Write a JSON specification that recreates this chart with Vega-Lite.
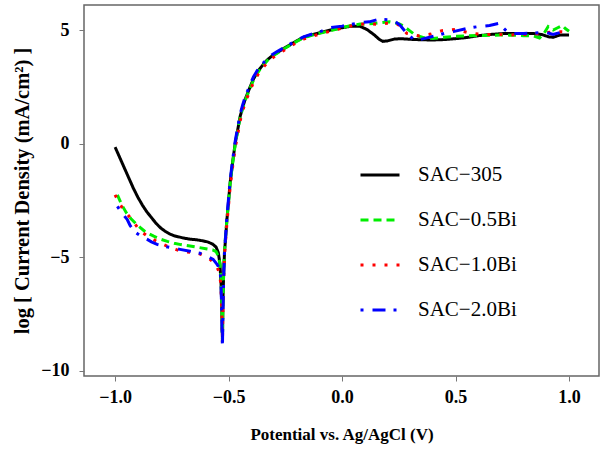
{
  "$schema": "https://vega.github.io/schema/vega-lite/v6.json",
  "autosize": "none",
  "width": 515,
  "height": 371,
  "padding": {"left": 84, "top": 5, "right": 2, "bottom": 74},
  "background": "white",
  "config": {
    "view": {"stroke": "#666666", "strokeWidth": 1.5},
    "font": "Liberation Serif",
    "legend": {"labelFont": "Liberation Serif"},
    "axis": {"labelFont": "Liberation Serif", "titleFont": "Liberation Serif"}
  },
  "datasets": {
    "curves": [
      {"alloy": "SAC−305", "V": -1.0, "J": -0.15},
      {"alloy": "SAC−305", "V": -0.98, "J": -0.6},
      {"alloy": "SAC−305", "V": -0.96, "J": -1.05},
      {"alloy": "SAC−305", "V": -0.94, "J": -1.5},
      {"alloy": "SAC−305", "V": -0.92, "J": -1.95},
      {"alloy": "SAC−305", "V": -0.9, "J": -2.35},
      {"alloy": "SAC−305", "V": -0.88, "J": -2.7},
      {"alloy": "SAC−305", "V": -0.86, "J": -3.0},
      {"alloy": "SAC−305", "V": -0.84, "J": -3.25},
      {"alloy": "SAC−305", "V": -0.82, "J": -3.5},
      {"alloy": "SAC−305", "V": -0.8, "J": -3.7},
      {"alloy": "SAC−305", "V": -0.78, "J": -3.85},
      {"alloy": "SAC−305", "V": -0.76, "J": -3.97},
      {"alloy": "SAC−305", "V": -0.74, "J": -4.05},
      {"alloy": "SAC−305", "V": -0.72, "J": -4.1},
      {"alloy": "SAC−305", "V": -0.7, "J": -4.15},
      {"alloy": "SAC−305", "V": -0.67, "J": -4.2},
      {"alloy": "SAC−305", "V": -0.64, "J": -4.23},
      {"alloy": "SAC−305", "V": -0.61, "J": -4.28},
      {"alloy": "SAC−305", "V": -0.59, "J": -4.33},
      {"alloy": "SAC−305", "V": -0.57, "J": -4.42},
      {"alloy": "SAC−305", "V": -0.555, "J": -4.55},
      {"alloy": "SAC−305", "V": -0.545, "J": -4.8},
      {"alloy": "SAC−305", "V": -0.538, "J": -5.3},
      {"alloy": "SAC−305", "V": -0.533, "J": -6.2},
      {"alloy": "SAC−305", "V": -0.53, "J": -7.2},
      {"alloy": "SAC−305", "V": -0.528, "J": -8.3},
      {"alloy": "SAC−305", "V": -0.527, "J": -8.6},
      {"alloy": "SAC−305", "V": -0.525, "J": -7.0},
      {"alloy": "SAC−305", "V": -0.522, "J": -5.8},
      {"alloy": "SAC−305", "V": -0.518, "J": -4.8},
      {"alloy": "SAC−305", "V": -0.512, "J": -4.0},
      {"alloy": "SAC−305", "V": -0.507, "J": -3.3},
      {"alloy": "SAC−305", "V": -0.5, "J": -2.5},
      {"alloy": "SAC−305", "V": -0.493, "J": -1.7},
      {"alloy": "SAC−305", "V": -0.482, "J": -0.8},
      {"alloy": "SAC−305", "V": -0.471, "J": 0.0},
      {"alloy": "SAC−305", "V": -0.46, "J": 0.6},
      {"alloy": "SAC−305", "V": -0.449, "J": 1.2},
      {"alloy": "SAC−305", "V": -0.438, "J": 1.6},
      {"alloy": "SAC−305", "V": -0.427, "J": 1.95},
      {"alloy": "SAC−305", "V": -0.415, "J": 2.25},
      {"alloy": "SAC−305", "V": -0.405, "J": 2.5},
      {"alloy": "SAC−305", "V": -0.39, "J": 2.85},
      {"alloy": "SAC−305", "V": -0.37, "J": 3.2},
      {"alloy": "SAC−305", "V": -0.35, "J": 3.45},
      {"alloy": "SAC−305", "V": -0.33, "J": 3.68},
      {"alloy": "SAC−305", "V": -0.31, "J": 3.85},
      {"alloy": "SAC−305", "V": -0.286, "J": 4.0},
      {"alloy": "SAC−305", "V": -0.26, "J": 4.17},
      {"alloy": "SAC−305", "V": -0.229, "J": 4.35},
      {"alloy": "SAC−305", "V": -0.2, "J": 4.52},
      {"alloy": "SAC−305", "V": -0.17, "J": 4.68},
      {"alloy": "SAC−305", "V": -0.13, "J": 4.8},
      {"alloy": "SAC−305", "V": -0.09, "J": 4.9},
      {"alloy": "SAC−305", "V": -0.05, "J": 5.0},
      {"alloy": "SAC−305", "V": 0.0, "J": 5.1},
      {"alloy": "SAC−305", "V": 0.04, "J": 5.17},
      {"alloy": "SAC−305", "V": 0.08, "J": 5.16},
      {"alloy": "SAC−305", "V": 0.11, "J": 5.02},
      {"alloy": "SAC−305", "V": 0.14, "J": 4.8},
      {"alloy": "SAC−305", "V": 0.165, "J": 4.58},
      {"alloy": "SAC−305", "V": 0.18, "J": 4.5},
      {"alloy": "SAC−305", "V": 0.2, "J": 4.52},
      {"alloy": "SAC−305", "V": 0.23, "J": 4.6},
      {"alloy": "SAC−305", "V": 0.26, "J": 4.62},
      {"alloy": "SAC−305", "V": 0.3, "J": 4.59},
      {"alloy": "SAC−305", "V": 0.35, "J": 4.57},
      {"alloy": "SAC−305", "V": 0.4, "J": 4.56},
      {"alloy": "SAC−305", "V": 0.45, "J": 4.58},
      {"alloy": "SAC−305", "V": 0.5, "J": 4.62},
      {"alloy": "SAC−305", "V": 0.55, "J": 4.67},
      {"alloy": "SAC−305", "V": 0.6, "J": 4.75},
      {"alloy": "SAC−305", "V": 0.65, "J": 4.8},
      {"alloy": "SAC−305", "V": 0.7, "J": 4.84},
      {"alloy": "SAC−305", "V": 0.76, "J": 4.85},
      {"alloy": "SAC−305", "V": 0.84, "J": 4.85},
      {"alloy": "SAC−305", "V": 0.88, "J": 4.8},
      {"alloy": "SAC−305", "V": 0.91, "J": 4.7},
      {"alloy": "SAC−305", "V": 0.93, "J": 4.68},
      {"alloy": "SAC−305", "V": 0.96, "J": 4.78},
      {"alloy": "SAC−305", "V": 1.0, "J": 4.78},

      {"alloy": "SAC−0.5Bi", "V": -0.99, "J": -2.25},
      {"alloy": "SAC−0.5Bi", "V": -0.97, "J": -2.7},
      {"alloy": "SAC−0.5Bi", "V": -0.95, "J": -3.05},
      {"alloy": "SAC−0.5Bi", "V": -0.93, "J": -3.3},
      {"alloy": "SAC−0.5Bi", "V": -0.91, "J": -3.5},
      {"alloy": "SAC−0.5Bi", "V": -0.89, "J": -3.68},
      {"alloy": "SAC−0.5Bi", "V": -0.87, "J": -3.85},
      {"alloy": "SAC−0.5Bi", "V": -0.85, "J": -3.97},
      {"alloy": "SAC−0.5Bi", "V": -0.83, "J": -4.07},
      {"alloy": "SAC−0.5Bi", "V": -0.8, "J": -4.2},
      {"alloy": "SAC−0.5Bi", "V": -0.77, "J": -4.3},
      {"alloy": "SAC−0.5Bi", "V": -0.74, "J": -4.38},
      {"alloy": "SAC−0.5Bi", "V": -0.71, "J": -4.44},
      {"alloy": "SAC−0.5Bi", "V": -0.67, "J": -4.5},
      {"alloy": "SAC−0.5Bi", "V": -0.63, "J": -4.57},
      {"alloy": "SAC−0.5Bi", "V": -0.6, "J": -4.62},
      {"alloy": "SAC−0.5Bi", "V": -0.57, "J": -4.67},
      {"alloy": "SAC−0.5Bi", "V": -0.555, "J": -4.75},
      {"alloy": "SAC−0.5Bi", "V": -0.545, "J": -4.95},
      {"alloy": "SAC−0.5Bi", "V": -0.538, "J": -5.3},
      {"alloy": "SAC−0.5Bi", "V": -0.533, "J": -5.9},
      {"alloy": "SAC−0.5Bi", "V": -0.53, "J": -7.0},
      {"alloy": "SAC−0.5Bi", "V": -0.528, "J": -8.2},
      {"alloy": "SAC−0.5Bi", "V": -0.527, "J": -8.7},
      {"alloy": "SAC−0.5Bi", "V": -0.525, "J": -7.2},
      {"alloy": "SAC−0.5Bi", "V": -0.522, "J": -5.8},
      {"alloy": "SAC−0.5Bi", "V": -0.518, "J": -4.7},
      {"alloy": "SAC−0.5Bi", "V": -0.512, "J": -3.9},
      {"alloy": "SAC−0.5Bi", "V": -0.507, "J": -3.3},
      {"alloy": "SAC−0.5Bi", "V": -0.5, "J": -2.55},
      {"alloy": "SAC−0.5Bi", "V": -0.493, "J": -1.75},
      {"alloy": "SAC−0.5Bi", "V": -0.482, "J": -0.85},
      {"alloy": "SAC−0.5Bi", "V": -0.471, "J": -0.05},
      {"alloy": "SAC−0.5Bi", "V": -0.46, "J": 0.55},
      {"alloy": "SAC−0.5Bi", "V": -0.449, "J": 1.15},
      {"alloy": "SAC−0.5Bi", "V": -0.438, "J": 1.55},
      {"alloy": "SAC−0.5Bi", "V": -0.427, "J": 1.9},
      {"alloy": "SAC−0.5Bi", "V": -0.415, "J": 2.2},
      {"alloy": "SAC−0.5Bi", "V": -0.405, "J": 2.45},
      {"alloy": "SAC−0.5Bi", "V": -0.39, "J": 2.8},
      {"alloy": "SAC−0.5Bi", "V": -0.37, "J": 3.15},
      {"alloy": "SAC−0.5Bi", "V": -0.35, "J": 3.42},
      {"alloy": "SAC−0.5Bi", "V": -0.33, "J": 3.65},
      {"alloy": "SAC−0.5Bi", "V": -0.31, "J": 3.83},
      {"alloy": "SAC−0.5Bi", "V": -0.286, "J": 3.98},
      {"alloy": "SAC−0.5Bi", "V": -0.26, "J": 4.15},
      {"alloy": "SAC−0.5Bi", "V": -0.229, "J": 4.33},
      {"alloy": "SAC−0.5Bi", "V": -0.2, "J": 4.5},
      {"alloy": "SAC−0.5Bi", "V": -0.17, "J": 4.66},
      {"alloy": "SAC−0.5Bi", "V": -0.13, "J": 4.78},
      {"alloy": "SAC−0.5Bi", "V": -0.09, "J": 4.88},
      {"alloy": "SAC−0.5Bi", "V": -0.04, "J": 5.0},
      {"alloy": "SAC−0.5Bi", "V": 0.0, "J": 5.1},
      {"alloy": "SAC−0.5Bi", "V": 0.04, "J": 5.2},
      {"alloy": "SAC−0.5Bi", "V": 0.08, "J": 5.26},
      {"alloy": "SAC−0.5Bi", "V": 0.14, "J": 5.29},
      {"alloy": "SAC−0.5Bi", "V": 0.21, "J": 5.36},
      {"alloy": "SAC−0.5Bi", "V": 0.25, "J": 5.28},
      {"alloy": "SAC−0.5Bi", "V": 0.27, "J": 5.18},
      {"alloy": "SAC−0.5Bi", "V": 0.3, "J": 4.95},
      {"alloy": "SAC−0.5Bi", "V": 0.322, "J": 4.78},
      {"alloy": "SAC−0.5Bi", "V": 0.36, "J": 4.66},
      {"alloy": "SAC−0.5Bi", "V": 0.4, "J": 4.63},
      {"alloy": "SAC−0.5Bi", "V": 0.45, "J": 4.68},
      {"alloy": "SAC−0.5Bi", "V": 0.5, "J": 4.72},
      {"alloy": "SAC−0.5Bi", "V": 0.55, "J": 4.74},
      {"alloy": "SAC−0.5Bi", "V": 0.6, "J": 4.76},
      {"alloy": "SAC−0.5Bi", "V": 0.65, "J": 4.77},
      {"alloy": "SAC−0.5Bi", "V": 0.7, "J": 4.78},
      {"alloy": "SAC−0.5Bi", "V": 0.76, "J": 4.77},
      {"alloy": "SAC−0.5Bi", "V": 0.8, "J": 4.75},
      {"alloy": "SAC−0.5Bi", "V": 0.843, "J": 4.74},
      {"alloy": "SAC−0.5Bi", "V": 0.87, "J": 4.65},
      {"alloy": "SAC−0.5Bi", "V": 0.89, "J": 4.85},
      {"alloy": "SAC−0.5Bi", "V": 0.908, "J": 5.15},
      {"alloy": "SAC−0.5Bi", "V": 0.93, "J": 5.0},
      {"alloy": "SAC−0.5Bi", "V": 0.95, "J": 5.1},
      {"alloy": "SAC−0.5Bi", "V": 0.97, "J": 5.2},
      {"alloy": "SAC−0.5Bi", "V": 0.985, "J": 5.05},
      {"alloy": "SAC−0.5Bi", "V": 1.0, "J": 4.95},

      {"alloy": "SAC−1.0Bi", "V": -1.0, "J": -2.25},
      {"alloy": "SAC−1.0Bi", "V": -0.985, "J": -2.55},
      {"alloy": "SAC−1.0Bi", "V": -0.97, "J": -2.8},
      {"alloy": "SAC−1.0Bi", "V": -0.95, "J": -3.05},
      {"alloy": "SAC−1.0Bi", "V": -0.934, "J": -3.25},
      {"alloy": "SAC−1.0Bi", "V": -0.915, "J": -3.5},
      {"alloy": "SAC−1.0Bi", "V": -0.9, "J": -3.7},
      {"alloy": "SAC−1.0Bi", "V": -0.88, "J": -3.9},
      {"alloy": "SAC−1.0Bi", "V": -0.86, "J": -4.05},
      {"alloy": "SAC−1.0Bi", "V": -0.84, "J": -4.18},
      {"alloy": "SAC−1.0Bi", "V": -0.815, "J": -4.3},
      {"alloy": "SAC−1.0Bi", "V": -0.79, "J": -4.42},
      {"alloy": "SAC−1.0Bi", "V": -0.758, "J": -4.56},
      {"alloy": "SAC−1.0Bi", "V": -0.73, "J": -4.66},
      {"alloy": "SAC−1.0Bi", "V": -0.705, "J": -4.74},
      {"alloy": "SAC−1.0Bi", "V": -0.67, "J": -4.78},
      {"alloy": "SAC−1.0Bi", "V": -0.64, "J": -4.8},
      {"alloy": "SAC−1.0Bi", "V": -0.62, "J": -4.88},
      {"alloy": "SAC−1.0Bi", "V": -0.603, "J": -4.96},
      {"alloy": "SAC−1.0Bi", "V": -0.58, "J": -5.1},
      {"alloy": "SAC−1.0Bi", "V": -0.56, "J": -5.3},
      {"alloy": "SAC−1.0Bi", "V": -0.55, "J": -5.45},
      {"alloy": "SAC−1.0Bi", "V": -0.54, "J": -5.7},
      {"alloy": "SAC−1.0Bi", "V": -0.534, "J": -6.2},
      {"alloy": "SAC−1.0Bi", "V": -0.53, "J": -7.3},
      {"alloy": "SAC−1.0Bi", "V": -0.528, "J": -8.3},
      {"alloy": "SAC−1.0Bi", "V": -0.527, "J": -8.8},
      {"alloy": "SAC−1.0Bi", "V": -0.525, "J": -7.3},
      {"alloy": "SAC−1.0Bi", "V": -0.522, "J": -6.0},
      {"alloy": "SAC−1.0Bi", "V": -0.518, "J": -4.9},
      {"alloy": "SAC−1.0Bi", "V": -0.512, "J": -4.1},
      {"alloy": "SAC−1.0Bi", "V": -0.507, "J": -3.45},
      {"alloy": "SAC−1.0Bi", "V": -0.5, "J": -2.7},
      {"alloy": "SAC−1.0Bi", "V": -0.493, "J": -1.9},
      {"alloy": "SAC−1.0Bi", "V": -0.482, "J": -1.0},
      {"alloy": "SAC−1.0Bi", "V": -0.471, "J": -0.2},
      {"alloy": "SAC−1.0Bi", "V": -0.46, "J": 0.4},
      {"alloy": "SAC−1.0Bi", "V": -0.449, "J": 1.0},
      {"alloy": "SAC−1.0Bi", "V": -0.438, "J": 1.45},
      {"alloy": "SAC−1.0Bi", "V": -0.427, "J": 1.8},
      {"alloy": "SAC−1.0Bi", "V": -0.415, "J": 2.1},
      {"alloy": "SAC−1.0Bi", "V": -0.405, "J": 2.35},
      {"alloy": "SAC−1.0Bi", "V": -0.39, "J": 2.7},
      {"alloy": "SAC−1.0Bi", "V": -0.37, "J": 3.05},
      {"alloy": "SAC−1.0Bi", "V": -0.35, "J": 3.33},
      {"alloy": "SAC−1.0Bi", "V": -0.33, "J": 3.56},
      {"alloy": "SAC−1.0Bi", "V": -0.31, "J": 3.75},
      {"alloy": "SAC−1.0Bi", "V": -0.286, "J": 3.92},
      {"alloy": "SAC−1.0Bi", "V": -0.26, "J": 4.08},
      {"alloy": "SAC−1.0Bi", "V": -0.229, "J": 4.28},
      {"alloy": "SAC−1.0Bi", "V": -0.2, "J": 4.45},
      {"alloy": "SAC−1.0Bi", "V": -0.17, "J": 4.6},
      {"alloy": "SAC−1.0Bi", "V": -0.13, "J": 4.73},
      {"alloy": "SAC−1.0Bi", "V": -0.09, "J": 4.85},
      {"alloy": "SAC−1.0Bi", "V": -0.05, "J": 4.95},
      {"alloy": "SAC−1.0Bi", "V": 0.0, "J": 5.08},
      {"alloy": "SAC−1.0Bi", "V": 0.04, "J": 5.18},
      {"alloy": "SAC−1.0Bi", "V": 0.08, "J": 5.25},
      {"alloy": "SAC−1.0Bi", "V": 0.12, "J": 5.28},
      {"alloy": "SAC−1.0Bi", "V": 0.16, "J": 5.25},
      {"alloy": "SAC−1.0Bi", "V": 0.2, "J": 5.3},
      {"alloy": "SAC−1.0Bi", "V": 0.24, "J": 5.28},
      {"alloy": "SAC−1.0Bi", "V": 0.265, "J": 5.1},
      {"alloy": "SAC−1.0Bi", "V": 0.285, "J": 4.85},
      {"alloy": "SAC−1.0Bi", "V": 0.31, "J": 4.8},
      {"alloy": "SAC−1.0Bi", "V": 0.34, "J": 4.74},
      {"alloy": "SAC−1.0Bi", "V": 0.39, "J": 4.82},
      {"alloy": "SAC−1.0Bi", "V": 0.44, "J": 4.97},
      {"alloy": "SAC−1.0Bi", "V": 0.5, "J": 5.03},
      {"alloy": "SAC−1.0Bi", "V": 0.55, "J": 4.9},
      {"alloy": "SAC−1.0Bi", "V": 0.6, "J": 4.82},
      {"alloy": "SAC−1.0Bi", "V": 0.65, "J": 4.8},
      {"alloy": "SAC−1.0Bi", "V": 0.7, "J": 4.8},
      {"alloy": "SAC−1.0Bi", "V": 0.74, "J": 4.78},
      {"alloy": "SAC−1.0Bi", "V": 0.8, "J": 4.8},
      {"alloy": "SAC−1.0Bi", "V": 0.85, "J": 4.82},
      {"alloy": "SAC−1.0Bi", "V": 0.9, "J": 4.89},
      {"alloy": "SAC−1.0Bi", "V": 0.95, "J": 4.93},
      {"alloy": "SAC−1.0Bi", "V": 1.0, "J": 4.9},

      {"alloy": "SAC−2.0Bi", "V": -0.99, "J": -2.76},
      {"alloy": "SAC−2.0Bi", "V": -0.97, "J": -3.05},
      {"alloy": "SAC−2.0Bi", "V": -0.947, "J": -3.33},
      {"alloy": "SAC−2.0Bi", "V": -0.934, "J": -3.6},
      {"alloy": "SAC−2.0Bi", "V": -0.915, "J": -3.85},
      {"alloy": "SAC−2.0Bi", "V": -0.9, "J": -3.97},
      {"alloy": "SAC−2.0Bi", "V": -0.88, "J": -4.1},
      {"alloy": "SAC−2.0Bi", "V": -0.86, "J": -4.2},
      {"alloy": "SAC−2.0Bi", "V": -0.84, "J": -4.32},
      {"alloy": "SAC−2.0Bi", "V": -0.815, "J": -4.43},
      {"alloy": "SAC−2.0Bi", "V": -0.79, "J": -4.5},
      {"alloy": "SAC−2.0Bi", "V": -0.76, "J": -4.56},
      {"alloy": "SAC−2.0Bi", "V": -0.714, "J": -4.65},
      {"alloy": "SAC−2.0Bi", "V": -0.67, "J": -4.73},
      {"alloy": "SAC−2.0Bi", "V": -0.626, "J": -4.82},
      {"alloy": "SAC−2.0Bi", "V": -0.6, "J": -4.92},
      {"alloy": "SAC−2.0Bi", "V": -0.585, "J": -5.0},
      {"alloy": "SAC−2.0Bi", "V": -0.568, "J": -5.09},
      {"alloy": "SAC−2.0Bi", "V": -0.555, "J": -5.25},
      {"alloy": "SAC−2.0Bi", "V": -0.545, "J": -5.4},
      {"alloy": "SAC−2.0Bi", "V": -0.537, "J": -5.6},
      {"alloy": "SAC−2.0Bi", "V": -0.533, "J": -6.3},
      {"alloy": "SAC−2.0Bi", "V": -0.53, "J": -7.5},
      {"alloy": "SAC−2.0Bi", "V": -0.528, "J": -8.5},
      {"alloy": "SAC−2.0Bi", "V": -0.527, "J": -8.95},
      {"alloy": "SAC−2.0Bi", "V": -0.525, "J": -7.5},
      {"alloy": "SAC−2.0Bi", "V": -0.522, "J": -6.0},
      {"alloy": "SAC−2.0Bi", "V": -0.518, "J": -4.8},
      {"alloy": "SAC−2.0Bi", "V": -0.512, "J": -3.9},
      {"alloy": "SAC−2.0Bi", "V": -0.507, "J": -3.2},
      {"alloy": "SAC−2.0Bi", "V": -0.5, "J": -2.4},
      {"alloy": "SAC−2.0Bi", "V": -0.493, "J": -1.6},
      {"alloy": "SAC−2.0Bi", "V": -0.482, "J": -0.7},
      {"alloy": "SAC−2.0Bi", "V": -0.471, "J": 0.1},
      {"alloy": "SAC−2.0Bi", "V": -0.46, "J": 0.7},
      {"alloy": "SAC−2.0Bi", "V": -0.449, "J": 1.3},
      {"alloy": "SAC−2.0Bi", "V": -0.438, "J": 1.7},
      {"alloy": "SAC−2.0Bi", "V": -0.427, "J": 2.05},
      {"alloy": "SAC−2.0Bi", "V": -0.415, "J": 2.35},
      {"alloy": "SAC−2.0Bi", "V": -0.405, "J": 2.6},
      {"alloy": "SAC−2.0Bi", "V": -0.39, "J": 2.95},
      {"alloy": "SAC−2.0Bi", "V": -0.37, "J": 3.28},
      {"alloy": "SAC−2.0Bi", "V": -0.35, "J": 3.52},
      {"alloy": "SAC−2.0Bi", "V": -0.33, "J": 3.73},
      {"alloy": "SAC−2.0Bi", "V": -0.31, "J": 3.9},
      {"alloy": "SAC−2.0Bi", "V": -0.286, "J": 4.05},
      {"alloy": "SAC−2.0Bi", "V": -0.26, "J": 4.2},
      {"alloy": "SAC−2.0Bi", "V": -0.229, "J": 4.38},
      {"alloy": "SAC−2.0Bi", "V": -0.2, "J": 4.55},
      {"alloy": "SAC−2.0Bi", "V": -0.17, "J": 4.7},
      {"alloy": "SAC−2.0Bi", "V": -0.13, "J": 4.83},
      {"alloy": "SAC−2.0Bi", "V": -0.09, "J": 4.95},
      {"alloy": "SAC−2.0Bi", "V": -0.053, "J": 5.1},
      {"alloy": "SAC−2.0Bi", "V": 0.0, "J": 5.17},
      {"alloy": "SAC−2.0Bi", "V": 0.04, "J": 5.25},
      {"alloy": "SAC−2.0Bi", "V": 0.079, "J": 5.32},
      {"alloy": "SAC−2.0Bi", "V": 0.12, "J": 5.36},
      {"alloy": "SAC−2.0Bi", "V": 0.16, "J": 5.47},
      {"alloy": "SAC−2.0Bi", "V": 0.2, "J": 5.45},
      {"alloy": "SAC−2.0Bi", "V": 0.225, "J": 5.44},
      {"alloy": "SAC−2.0Bi", "V": 0.255, "J": 5.22},
      {"alloy": "SAC−2.0Bi", "V": 0.285, "J": 4.85},
      {"alloy": "SAC−2.0Bi", "V": 0.322, "J": 4.53},
      {"alloy": "SAC−2.0Bi", "V": 0.36, "J": 4.62},
      {"alloy": "SAC−2.0Bi", "V": 0.41, "J": 4.74},
      {"alloy": "SAC−2.0Bi", "V": 0.45, "J": 4.85},
      {"alloy": "SAC−2.0Bi", "V": 0.49, "J": 4.93},
      {"alloy": "SAC−2.0Bi", "V": 0.549, "J": 5.07},
      {"alloy": "SAC−2.0Bi", "V": 0.6, "J": 5.15},
      {"alloy": "SAC−2.0Bi", "V": 0.65, "J": 5.2},
      {"alloy": "SAC−2.0Bi", "V": 0.69, "J": 5.29},
      {"alloy": "SAC−2.0Bi", "V": 0.72, "J": 5.0},
      {"alloy": "SAC−2.0Bi", "V": 0.74, "J": 4.85},
      {"alloy": "SAC−2.0Bi", "V": 0.8, "J": 4.85},
      {"alloy": "SAC−2.0Bi", "V": 0.85, "J": 4.87},
      {"alloy": "SAC−2.0Bi", "V": 0.9, "J": 4.89},
      {"alloy": "SAC−2.0Bi", "V": 0.93, "J": 4.8},
      {"alloy": "SAC−2.0Bi", "V": 0.96, "J": 4.89}
    ]
  },
  "data": {"name": "curves"},
  "mark": {"type": "line", "strokeWidth": 3, "strokeCap": "butt", "clip": true},
  "encoding": {
    "x": {
      "field": "V", "type": "quantitative",
      "scale": {"domain": [-1.137, 1.132], "nice": false, "zero": false},
      "axis": {
        "title": "Potential vs. Ag/AgCl (V)",
        "values": [-1, -0.5, 0, 0.5, 1],
        "format": ".1f",
        "grid": false, "domain": false,
        "tickColor": "#777777", "tickSize": 5, "tickWidth": 1,
        "labelFontWeight": "bold", "labelFontSize": 18,
        "labelColor": "black", "labelPadding": 7,
        "titleFontWeight": "bold", "titleFontSize": 17,
        "titleColor": "black", "titlePadding": 20
      }
    },
    "y": {
      "field": "J", "type": "quantitative",
      "scale": {"domain": [-10.22, 6.1], "nice": false, "zero": false},
      "axis": {
        "title": "log [ Current Density (mA/cm²) ]",
        "values": [-10, -5, 0, 5],
        "format": "d",
        "grid": false, "domain": false,
        "tickColor": "#777777", "tickSize": 5, "tickWidth": 1,
        "labelFontWeight": "bold", "labelFontSize": 18,
        "labelColor": "black", "labelPadding": 10,
        "titleFontWeight": "bold", "titleFontSize": 20.5,
        "titleColor": "black", "titlePadding": 8
      }
    },
    "color": {
      "field": "alloy", "type": "nominal",
      "scale": {
        "domain": ["SAC−305", "SAC−0.5Bi", "SAC−1.0Bi", "SAC−2.0Bi"],
        "range": ["#000000", "#00ee00", "#ff0000", "#0000ff"]
      },
      "legend": {
        "title": null, "orient": "none", "legendX": 275, "legendY": 149,
        "symbolType": "stroke", "symbolSize": 1521, "symbolStrokeWidth": 3,
        "labelFont": "Liberation Serif", "labelFontWeight": "normal",
        "labelFontSize": 21, "labelColor": "black",
        "labelOffset": 17, "rowPadding": 14, "padding": 0
      }
    },
    "strokeDash": {
      "field": "alloy", "type": "nominal",
      "scale": {
        "domain": ["SAC−305", "SAC−0.5Bi", "SAC−1.0Bi", "SAC−2.0Bi"],
        "range": [[1, 0], [8, 5], [3, 9], [3, 9, 13, 8]]
      },
      "legend": null
    }
  }
}
